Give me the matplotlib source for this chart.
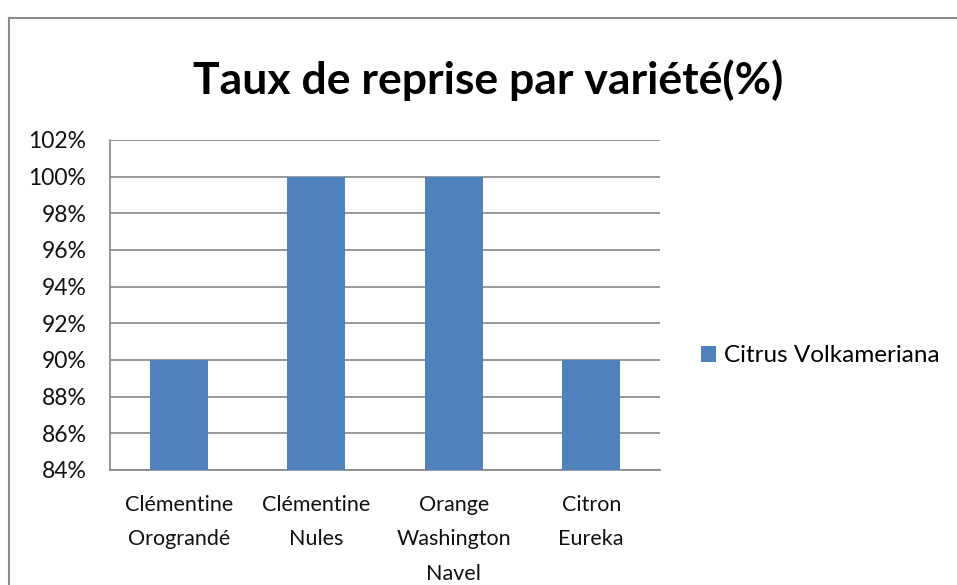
import matplotlib
matplotlib.use("Agg")
import matplotlib.pyplot as plt
from matplotlib.lines import Line2D
from matplotlib.ticker import FuncFormatter, MultipleLocator

categories = ["Clémentine\nOrograndé", "Clémentine\nNules", "Orange\nWashington\nNavel", "Citron\nEureka"]
values = [90, 100, 100, 90]
series_name = "Citrus Volkameriana"
title = "Taux de reprise par variété(%)"

plt.rcParams["font.family"] = ["Lato", "DejaVu Sans"]

W, H = 957, 585
fig = plt.figure(figsize=(W / 100, H / 100), dpi=100)
fig.patch.set_facecolor("white")

# outer chart frame (top and left edges; the rest runs off the canvas)
fx, fy = 8.5 / W, 1 - 17.5 / H
fig.add_artist(Line2D([fx, fx], [0, fy], transform=fig.transFigure,
                      color="#8c8c8c", linewidth=1.5))
fig.add_artist(Line2D([fx, 1.0], [fy, fy], transform=fig.transFigure,
                      color="#8c8c8c", linewidth=1.5))

left, right, top, bottom = 110, 660, 140, 470
ax = fig.add_axes([left / W, 1 - bottom / H, (right - left) / W, (bottom - top) / H])

x = range(len(categories))
bars = ax.bar(x, values, width=0.42, color="#4F81BD", zorder=3, label=series_name)

ax.set_xlim(-0.5, len(categories) - 0.5)
ax.set_ylim(84, 102)
ax.yaxis.set_major_locator(MultipleLocator(2))
ax.yaxis.set_major_formatter(FuncFormatter(lambda v, p: f"{v:.0f}%"))
ax.grid(axis="y", color="#868686", linewidth=1.2, zorder=0)
ax.set_axisbelow(True)

for s in ["top", "right"]:
    ax.spines[s].set_visible(False)
for s in ["left", "bottom"]:
    ax.spines[s].set_color("#868686")
    ax.spines[s].set_linewidth(1.2)

ax.set_xticks(list(x))
ax.set_xticklabels(categories, fontsize=15.5, linespacing=1.9, color="#111111")
ax.tick_params(axis="x", length=0, pad=18)
ax.tick_params(axis="y", length=0, pad=17, labelsize=16.5, labelcolor="#111111")

fig.text(488 / W, 1 - 80 / H, title, ha="center", va="center",
         fontsize=32, fontweight="bold", color="black")

leg = fig.legend(handles=[bars], labels=[series_name], loc="center left",
                 bbox_to_anchor=(701 / W, 1 - 356 / H), frameon=False,
                 fontsize=17.5, handlelength=0.6, handleheight=0.6,
                 handletextpad=0.35, borderaxespad=0, borderpad=0)

fig.savefig("out.png", dpi=100, facecolor="white")
